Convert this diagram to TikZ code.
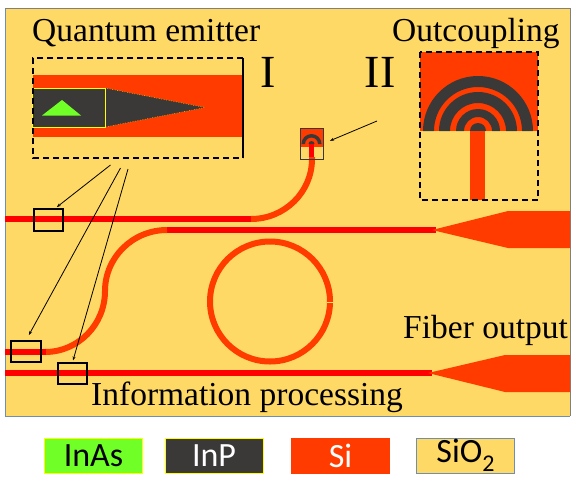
\documentclass[tikz,border=0pt]{standalone}
\usepackage{fontspec}
\setmainfont{Liberation Serif}
\newfontfamily\legendfont{Carlito}
\usetikzlibrary{positioning,calc,arrows.meta}
\definecolor{oxide}{HTML}{FFD966}
\definecolor{silicon}{HTML}{FF3B00}
\definecolor{wire}{HTML}{FF0000}
\definecolor{inp}{HTML}{3B3838}
\definecolor{inas}{HTML}{70FF26}
\definecolor{edgeyellow}{HTML}{FFFF00}
\definecolor{edgeblue}{HTML}{6F8FAF}
\tikzset{
  title/.style={anchor=base west, inner sep=0pt, font=\fontsize{33.5}{33.5}\selectfont},
  numeral/.style={anchor=base, inner sep=0pt, font=\fontsize{46}{46}\selectfont},
  legend/.style={minimum width=98pt, minimum height=35pt, inner sep=0pt, line width=1pt, font=\legendfont\fontsize{34}{34}\selectfont},
  marker/.style={draw=black, line width=1.4pt, inner sep=0pt, minimum width=29pt, minimum height=22pt},
  pointer/.style={black, line width=0.8pt, -{Stealth[length=4pt,width=3pt]}},
  inset/.style={black, line width=1.2pt, dashed, dash pattern=on 6pt off 4pt},
}
\begin{document}
\begin{tikzpicture}[x=1pt,y=-1pt]
  \useasboundingbox (0,0) rectangle (576,480);
  % chip
  \fill[oxide] (5,8) rectangle (570,416);
  \draw[edgeblue, line width=0.8pt] (5,8) -- (5,416) -- (570,416);
  \draw[gray, line width=0.8pt] (5,8) -- (570,8) -- (570,416);
  % waveguides
  \draw[wire, line width=6pt] (5,219) -- (252,219);
  \draw[silicon, line width=6pt] (251,219) arc (90:0:61 and 60) -- (312,157);
  \draw[wire, line width=6pt] (166,230) -- (436,230);
  \draw[silicon, line width=6pt] (167,230) arc (-90:-180:62 and 61) arc (0:90:60 and 61);
  \draw[wire, line width=6pt] (5,352) -- (46,352);
  \draw[wire, line width=6pt] (5,373) -- (432,373);
  % tapers
  \fill[silicon] (432,230) -- (508,211) -- (570,211) -- (570,248) -- (508,248) -- cycle;
  \fill[silicon] (428,373) -- (505,355) -- (570,355) -- (570,392) -- (505,392) -- cycle;
  % ring
  \draw[silicon, line width=6pt] (270,301.5) circle (60);
  \draw[oxide, line width=0.6pt] (327,302) -- (333,302);
  % quantum emitter
  \fill[silicon] (33,75) rectangle (242,137);
  \fill[inp] (105,88) -- (205,107.5) -- (105,127) -- cycle;
  \draw[edgeyellow, line width=0.5pt, dotted] (105,88) -- (205,107.5) -- (105,127);
  \draw[edgeyellow, fill=inp, line width=1pt] (32,88) rectangle (105,127);
  \fill[inas] (42,115.5) -- (62,100) -- (81,115.5) -- cycle;
  \draw[inset] (243,58) -- (33,58) -- (33,158) -- (243,158);
  \draw[black, line width=1.2pt] (243,58) -- (243,158);
  % outcoupling
  \fill[silicon] (420,52) rectangle (538,131);
  \fill[inp] (423,131) arc (180:360:55) -- (522,131) arc (360:180:44) -- cycle;
  \fill[inp] (439,131) arc (180:360:39) -- (506,131) arc (360:180:28) -- cycle;
  \fill[inp] (456,131) arc (180:360:22) -- (492,131) arc (360:180:14) -- cycle;
  \fill[inp] (470,131) arc (180:360:8) -- cycle;
  \fill[silicon] (470,131) rectangle (485,200);
  \draw[inset] (420,52) rectangle (538,200);
  % grating on the chip
  \fill[silicon] (300,128) rectangle (323,147);
  \fill[inp] (301.5,144) arc (180:360:10) -- (318,144) arc (360:180:6.5) -- cycle;
  \fill[inp] (308.5,144) arc (180:360:3) -- cycle;
  \fill[wire] (309,144) rectangle (314,157);
  \node[draw=inp, line width=1pt, inner sep=0pt, minimum width=23pt, minimum height=31pt] (gratingbox) at (311.5,143.5) {};
  % markers
  \node[marker] (markerone) at (48.5,220) {};
  \node[marker, minimum width=30pt, minimum height=21pt] (markertwo) at (26,351.5) {};
  \node[marker, minimum height=21pt] (markerthree) at (72.5,373.5) {};
  % pointers
  \coordinate (startone) at (110.5,165);
  \coordinate (starttwo) at (120.5,168);
  \coordinate (startthree) at (128,169);
  \coordinate (startfour) at (377,121);
  \draw[pointer, shorten >=2pt] (startone) -- (markerone.60);
  \draw[pointer, shorten >=6pt] (starttwo) -- (markertwo.north);
  \draw[pointer, shorten >=2pt] (startthree) -- (markerthree.north);
  \draw[pointer, shorten >=7pt] (startfour) -- (gratingbox.east);
  % labels
  \node[title] (lblquantum) at (32,41) {Quantum emitter};
  \node[title] (lbloutcoupling) at (392,41) {Outcoupling};
  \node[title] (lblfiber) at (403,338) {Fiber output};
  \node[title] (lblprocessing) at (91,405) {Information processing};
  \node[numeral] (lblone) at (268,87) {I};
  \node[numeral] (lbltwo) at (380,87) {II};
  % legend
  \node[legend, draw=edgeyellow, fill=inas] (legendinas) at (93.5,455.5) {InAs};
  \node[legend, draw=edgeyellow, fill=inp, text=white] (legendinp) at (214,455.5) {InP};
  \node[legend, draw=silicon, fill=silicon, text=white] (legendsi) at (340.5,455.5) {Si};
  \node[legend, draw=edgeblue, fill=oxide] (legendoxide) at (465.5,455.5) {SiO\raisebox{-9pt}{\fontsize{24}{24}\selectfont 2}};
\end{tikzpicture}
\end{document}
